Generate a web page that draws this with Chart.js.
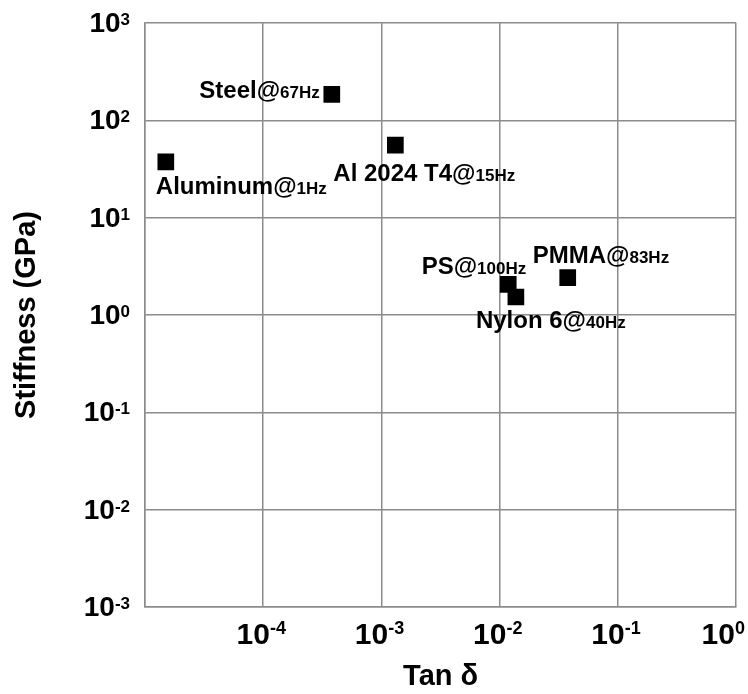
<!DOCTYPE html>
<html>
<head>
<meta charset="utf-8">
<title>Stiffness vs Tan δ</title>
<script src="https://cdn.jsdelivr.net/npm/chart.js@4.4.1/dist/chart.umd.min.js"></script>
<style>
    html, body { margin: 0; padding: 0; background: #fff; }
    #wrap { width: 748px; height: 694px; }
</style>
</head>
<body>
<div id="wrap"><canvas id="chart"></canvas></div>
<script>
// Data
const materials = ['Aluminum', 'Steel', 'Al 2024 T4', 'PS', 'Nylon 6', 'PMMA'];
const frequencies = ['1Hz', '67Hz', '15Hz', '100Hz', '40Hz', '83Hz'];
const tanDelta = [1.5e-5, 3.8e-4, 1.31e-3, 0.0118, 0.0137, 0.0376];
const stiffness = [37.4, 185, 55.6, 2.06, 1.53, 2.42];

// decades (exponents) for grid and tick labels
const xGridExps = [-5, -4, -3, -2, -1, 0];
const yGridExps = [-3, -2, -1, 0, 1, 2, 3];
const xTickExps = [-4, -3, -2, -1, 0];
const yTickExps = [3, 2, 1, 0, -1, -2, -3];

// where each point label sits, relative to its marker
const labelPlacement = [
    { dx: -10, dy: 32, align: 'left' },
    { dx: -12, dy: 4, align: 'right' },
    { dx: -62, dy: 36, align: 'left' },
    { dx: 18, dy: -10, align: 'right' },
    { dx: -40, dy: 31, align: 'left' },
    { dx: -35, dy: -15, align: 'left' }
];

const FONT = "'Liberation Sans', Arial, sans-serif";
const gridColor = '#8c8c8c';

// big text + small text on one baseline, returns nothing; maxRight keeps it on the canvas
function drawMixed(ctx, parts, x, y, align, maxRight) {
    let total = 0;
    parts.forEach(p => {
        ctx.font = 'bold ' + p.size + 'px ' + FONT;
        p.w = ctx.measureText(p.text).width;
        total += p.w;
    });
    let cx = align === 'right' ? x - total : (align === 'center' ? x - total / 2 : x);
    if (maxRight && cx + total > maxRight) cx = maxRight - total;
    ctx.textAlign = 'left';
    ctx.textBaseline = 'alphabetic';
    parts.forEach(p => {
        ctx.font = 'bold ' + p.size + 'px ' + FONT;
        ctx.fillText(p.text, cx, y + (p.rise || 0));
        cx += p.w;
    });
}

const labelsPlugin = {
    id: 'pointLabels',
    afterDatasetsDraw(chart) {
        const ctx = chart.ctx;
        const meta = chart.getDatasetMeta(0);
        ctx.save();
        ctx.fillStyle = '#000';
        meta.data.forEach((pt, i) => {
            const pl = labelPlacement[i];
            drawMixed(ctx, [
                { text: materials[i] + '@', size: 24 },
                { text: frequencies[i], size: 17 }
            ], pt.x + pl.dx, pt.y + pl.dy, pl.align);
        });
        ctx.restore();
    }
};

const powerTicksPlugin = {
    id: 'powerTicks',
    afterDraw(chart) {
        const ctx = chart.ctx;
        const area = chart.chartArea;
        const xs = chart.scales.x;
        const ys = chart.scales.y;
        ctx.save();
        ctx.fillStyle = '#000';
        xTickExps.forEach(e => {
            const px = xs.getPixelForValue(Math.pow(10, e));
            drawMixed(ctx, [
                { text: '10', size: 30 },
                { text: String(e), size: 18, rise: -10 }
            ], px - 2, area.bottom + 37, 'center', chart.width - 3);
        });
        yTickExps.forEach(e => {
            const py = ys.getPixelForValue(Math.pow(10, e));
            drawMixed(ctx, [
                { text: '10', size: 28 },
                { text: String(e), size: 17, rise: -7 }
            ], area.left - 15, py + 9, 'right');
        });
        ctx.restore();
    }
};

const axisTitleFont = { family: FONT, size: 29, weight: 'bold' };

new Chart(document.getElementById('chart'), {
    type: 'scatter',
    data: {
        datasets: [{
            data: tanDelta.map((t, i) => ({ x: t, y: stiffness[i] })),
            pointStyle: 'rect',
            pointRadius: 11.8,
            pointHoverRadius: 11.8,
            backgroundColor: '#000',
            borderWidth: 0
        }]
    },
    options: {
        responsive: true,
        maintainAspectRatio: false,
        animation: false,
        layout: { padding: { top: 23, right: 11, left: 0, bottom: 0 } },
        plugins: {
            legend: { display: false },
            tooltip: { enabled: false }
        },
        scales: {
            x: {
                type: 'logarithmic',
                min: 1e-5,
                max: 1,
                afterBuildTicks: s => { s.ticks = xGridExps.map(e => ({ value: Math.pow(10, e) })); },
                afterFit: s => { s.height = 87; },
                ticks: { display: false },
                grid: { color: gridColor, lineWidth: 1.5, drawTicks: false },
                border: { color: gridColor, width: 1.5 },
                title: {
                    display: true,
                    text: 'Tan δ',
                    color: '#000',
                    font: axisTitleFont,
                    padding: { top: 0, bottom: 0 }
                }
            },
            y: {
                type: 'logarithmic',
                min: 1e-3,
                max: 1e3,
                afterBuildTicks: s => { s.ticks = yGridExps.map(e => ({ value: Math.pow(10, e) })); },
                afterFit: s => { s.width = 145; },
                ticks: { display: false },
                grid: { color: gridColor, lineWidth: 1.5, drawTicks: false },
                border: { color: gridColor, width: 1.5 },
                title: {
                    display: true,
                    text: 'Stiffness (GPa)',
                    color: '#000',
                    font: axisTitleFont,
                    padding: { top: 10, bottom: 0 }
                }
            }
        }
    },
    plugins: [labelsPlugin, powerTicksPlugin]
});
</script>
</body>
</html>
